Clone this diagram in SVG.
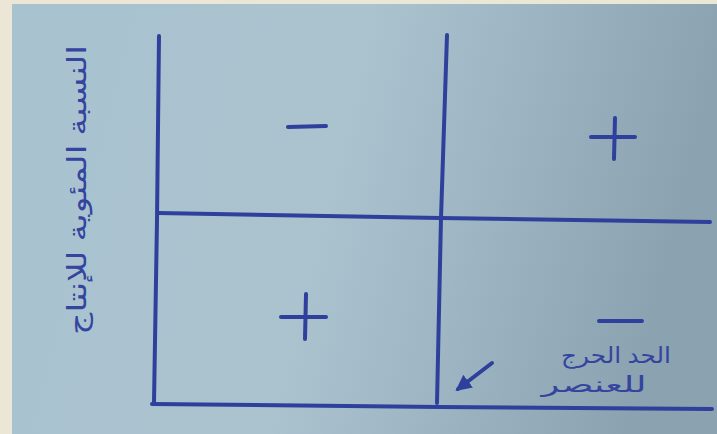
<svg xmlns="http://www.w3.org/2000/svg" width="717" height="434" viewBox="0 0 717 434">
  <defs>
    <linearGradient id="paper" x1="0" y1="0" x2="1" y2="0.15">
      <stop offset="0" stop-color="#a8c2cf"/>
      <stop offset="0.5" stop-color="#abc3cf"/>
      <stop offset="0.7" stop-color="#9fb7c4"/>
      <stop offset="1" stop-color="#8ba2b0"/>
    </linearGradient>
    <marker id="arrowhead" viewBox="0 0 10 10" refX="8" refY="5" markerWidth="4" markerHeight="4" orient="auto">
      <path d="M0,0 L10,5 L0,10 Z" fill="#2f3f9c"/>
    </marker>
    <style>
      .ink { stroke: #2f3f9c; stroke-width: 4; stroke-linecap: round; fill: none; }
      .sign { stroke: #2f3f9c; stroke-width: 4; stroke-linecap: round; fill: none; }
      .lbl { font-family: "Noto Sans", "DejaVu Sans", sans-serif; fill: #34449f; }
    </style>
  </defs>

  <rect x="0" y="0" width="717" height="434" fill="#ece6d6"/>
  <rect x="12" y="4" width="705" height="430" fill="url(#paper)"/>

  <g id="connectors">
    <path id="axis-y" class="ink" d="M159,36 L157,220 L154,403"/>
    <path id="critical-line" class="ink" d="M447,35 L441,218 L437,403"/>
    <path id="mid-line" class="ink" d="M158,213 L440,218 L710,222"/>
    <path id="axis-x" class="ink" d="M152,404 L440,407 L712,409"/>
    <path id="pointer" class="ink" d="M492,363 L458,389" marker-end="url(#arrowhead)"/>
  </g>

  <g id="q-top-left">
    <line class="sign" x1="288" y1="127" x2="326" y2="126"/>
  </g>
  <g id="q-top-right">
    <line class="sign" x1="591" y1="137" x2="635" y2="137"/>
    <line class="sign" x1="615" y1="118" x2="614" y2="159"/>
  </g>
  <g id="q-bottom-left">
    <line class="sign" x1="281" y1="317" x2="326" y2="317"/>
    <line class="sign" x1="306" y1="294" x2="305" y2="339"/>
  </g>
  <g id="q-bottom-right">
    <line class="sign" x1="599" y1="321" x2="642" y2="321"/>
  </g>

  <g id="label-y">
    <text class="lbl" x="0" y="0" font-size="26" text-anchor="middle" direction="rtl" transform="translate(86,190) rotate(-90)" textLength="290" lengthAdjust="spacingAndGlyphs">النسبة المئوية للإنتاج</text>
  </g>
  <g id="label-critical">
    <text class="lbl" x="616" y="363" font-size="22" text-anchor="middle" direction="rtl" textLength="110" lengthAdjust="spacingAndGlyphs">الحد الحرج</text>
    <text class="lbl" x="594" y="392" font-size="22" text-anchor="middle" direction="rtl" textLength="105" lengthAdjust="spacingAndGlyphs">للعنصر</text>
  </g>
</svg>
